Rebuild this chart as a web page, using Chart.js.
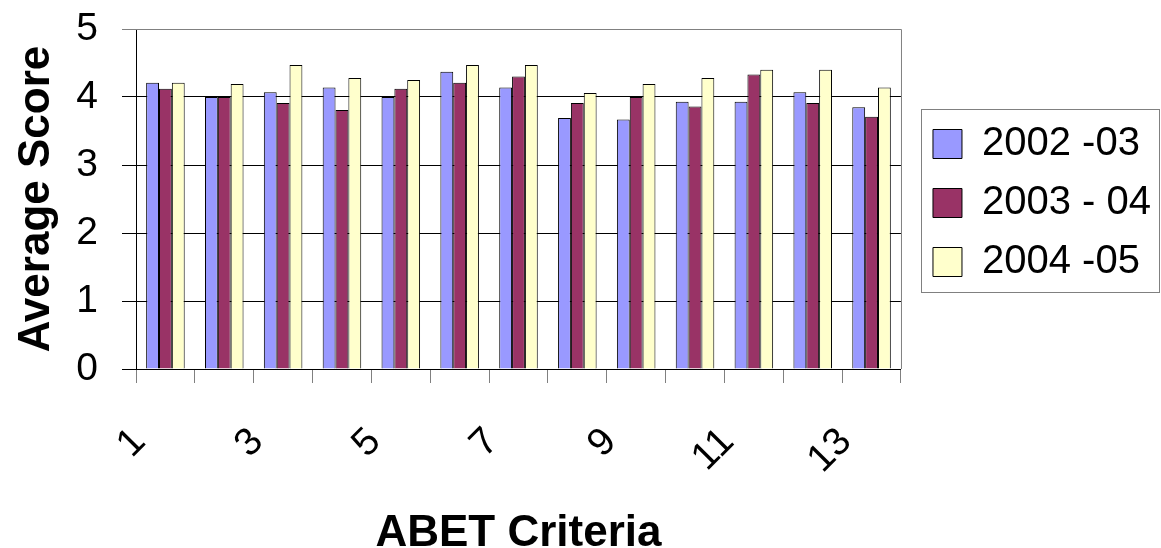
<!DOCTYPE html>
<html>
<head>
<meta charset="utf-8">
<script src="https://cdn.jsdelivr.net/npm/chart.js@4"></script>
<style>
  html, body { margin: 0; padding: 0; background: #fff; }
  #chart { display: block; }
</style>
</head>
<body>
<canvas id="chart" width="1161" height="548"></canvas>
<script>
// ABET criteria 1..13, average scores per school year
const criteria = ['1', '2', '3', '4', '5', '6', '7', '8', '9', '10', '11', '12', '13'];
const years = ['2002 -03', '2003 - 04', '2004 -05'];
const score2002 = [4.21, 4.00, 4.07, 4.14, 4.00, 4.37, 4.14, 3.69, 3.67, 3.93, 3.93, 4.07, 3.85];
const score2003 = [4.12, 4.00, 3.91, 3.81, 4.12, 4.21, 4.30, 3.91, 4.00, 3.86, 4.33, 3.91, 3.71];
const score2004 = [4.21, 4.19, 4.47, 4.28, 4.25, 4.47, 4.47, 4.06, 4.19, 4.28, 4.40, 4.40, 4.14];
const yTicks = [0, 1, 2, 3, 4, 5];

const fontFamily = "'Liberation Sans', Arial, sans-serif";
const barColors = ['#9999FF', '#993366', '#FFFFCC'];
const grey = '#808080';

const makeSet = (label, data, color) => ({
    label: label,
    data: data,
    backgroundColor: color,
    borderColor: '#000',
    borderWidth: 1,
    categoryPercentage: 0.655,
    barPercentage: 1.0,
});

// nudge the legend a bit away from the plot, like the original
const legendShift = {
    id: 'legendShift',
    afterLayout(chart) {
        const lg = chart.legend;
        if (lg) {
            lg.left += 13;
            lg.right += 13;
            lg.top += 4;
            lg.bottom += 4;
        }
    }
};

// grey border on top/right of the plot and round the legend
const framePlugin = {
    id: 'frame',
    afterDraw(chart) {
        const ctx = chart.ctx;
        const a = chart.chartArea;
        ctx.save();
        ctx.strokeStyle = grey;
        ctx.lineWidth = 1;
        ctx.beginPath();
        ctx.moveTo(a.left, a.top + 0.5);
        ctx.lineTo(a.right + 0.5, a.top + 0.5);
        ctx.lineTo(a.right + 0.5, a.bottom);
        ctx.stroke();
        const boxes = chart.legend.legendHitBoxes;
        if (boxes && boxes.length) {
            const first = boxes[0];
            const last = boxes[boxes.length - 1];
            const x0 = Math.round(first.left - 12) + 0.5;
            const y0 = Math.round(first.top - 15) + 0.5;
            const x1 = chart.width - 1.5;
            const y1 = Math.round(last.top + last.height + 10) + 0.5;
            ctx.strokeStyle = grey;
            ctx.strokeRect(x0, y0, x1 - x0, y1 - y0);
        }
        ctx.restore();
    }
};

const ctx = document.getElementById('chart').getContext('2d');
const chart = new Chart(ctx, {
    type: 'bar',
    data: {
        labels: criteria,
        datasets: [
            makeSet(years[0], score2002, barColors[0]),
            makeSet(years[1], score2003, barColors[1]),
            makeSet(years[2], score2004, barColors[2]),
        ]
    },
    options: {
        responsive: false,
        animation: false,
        layout: { padding: { top: 29, right: 13, bottom: 0, left: 0 } },
        plugins: {
            tooltip: { enabled: false },
            legend: {
                position: 'right',
                fullSize: false,
                labels: {
                    color: '#000',
                    boxWidth: 29,
                    boxHeight: 29,
                    padding: 19,
                    font: { family: fontFamily, size: 40 }
                }
            }
        },
        scales: {
            x: {
                grid: {
                    offset: true,
                    drawOnChartArea: false,
                    drawTicks: true,
                    tickLength: 14,
                    color: grey
                },
                border: { color: '#000', width: 1 },
                ticks: {
                    autoSkip: false,
                    maxRotation: 45,
                    minRotation: 45,
                    padding: 36,
                    labelOffset: -26,
                    color: '#000',
                    font: { family: fontFamily, size: 39 },
                    callback: (v, i) => (i % 2 === 0 ? criteria[i] : '')
                },
                title: {
                    display: true,
                    text: 'ABET Criteria',
                    color: '#000',
                    padding: { top: 0, bottom: 0 },
                    font: { family: fontFamily, size: 44, weight: 'bold', lineHeight: 0.66 }
                },
                afterFit(scale) {
                    scale.height = 179;
                    scale.paddingTop = 0;
                    scale.paddingBottom = 0;
                }
            },
            y: {
                min: 0,
                max: 5,
                afterBuildTicks(scale) { scale.ticks = yTicks.map(v => ({ value: v })); },
                grid: {
                    color: c => (c.tick && c.tick.value === 5 ? grey : '#000'),
                    tickLength: 14,
                    drawTicks: true
                },
                border: { color: '#000', width: 1 },
                ticks: {
                    padding: 24,
                    color: '#000',
                    font: { family: fontFamily, size: 39 }
                },
                title: {
                    display: true,
                    text: 'Average Score',
                    color: '#000',
                    padding: { top: 15, bottom: 0 },
                    font: { family: fontFamily, size: 44, weight: 'bold', lineHeight: 1 }
                },
                afterFit(scale) {
                    scale.width = 136;
                    scale.paddingTop = 0;
                    scale.paddingBottom = 0;
                }
            }
        }
    },
    plugins: [legendShift, framePlugin]
});
</script>
</body>
</html>
